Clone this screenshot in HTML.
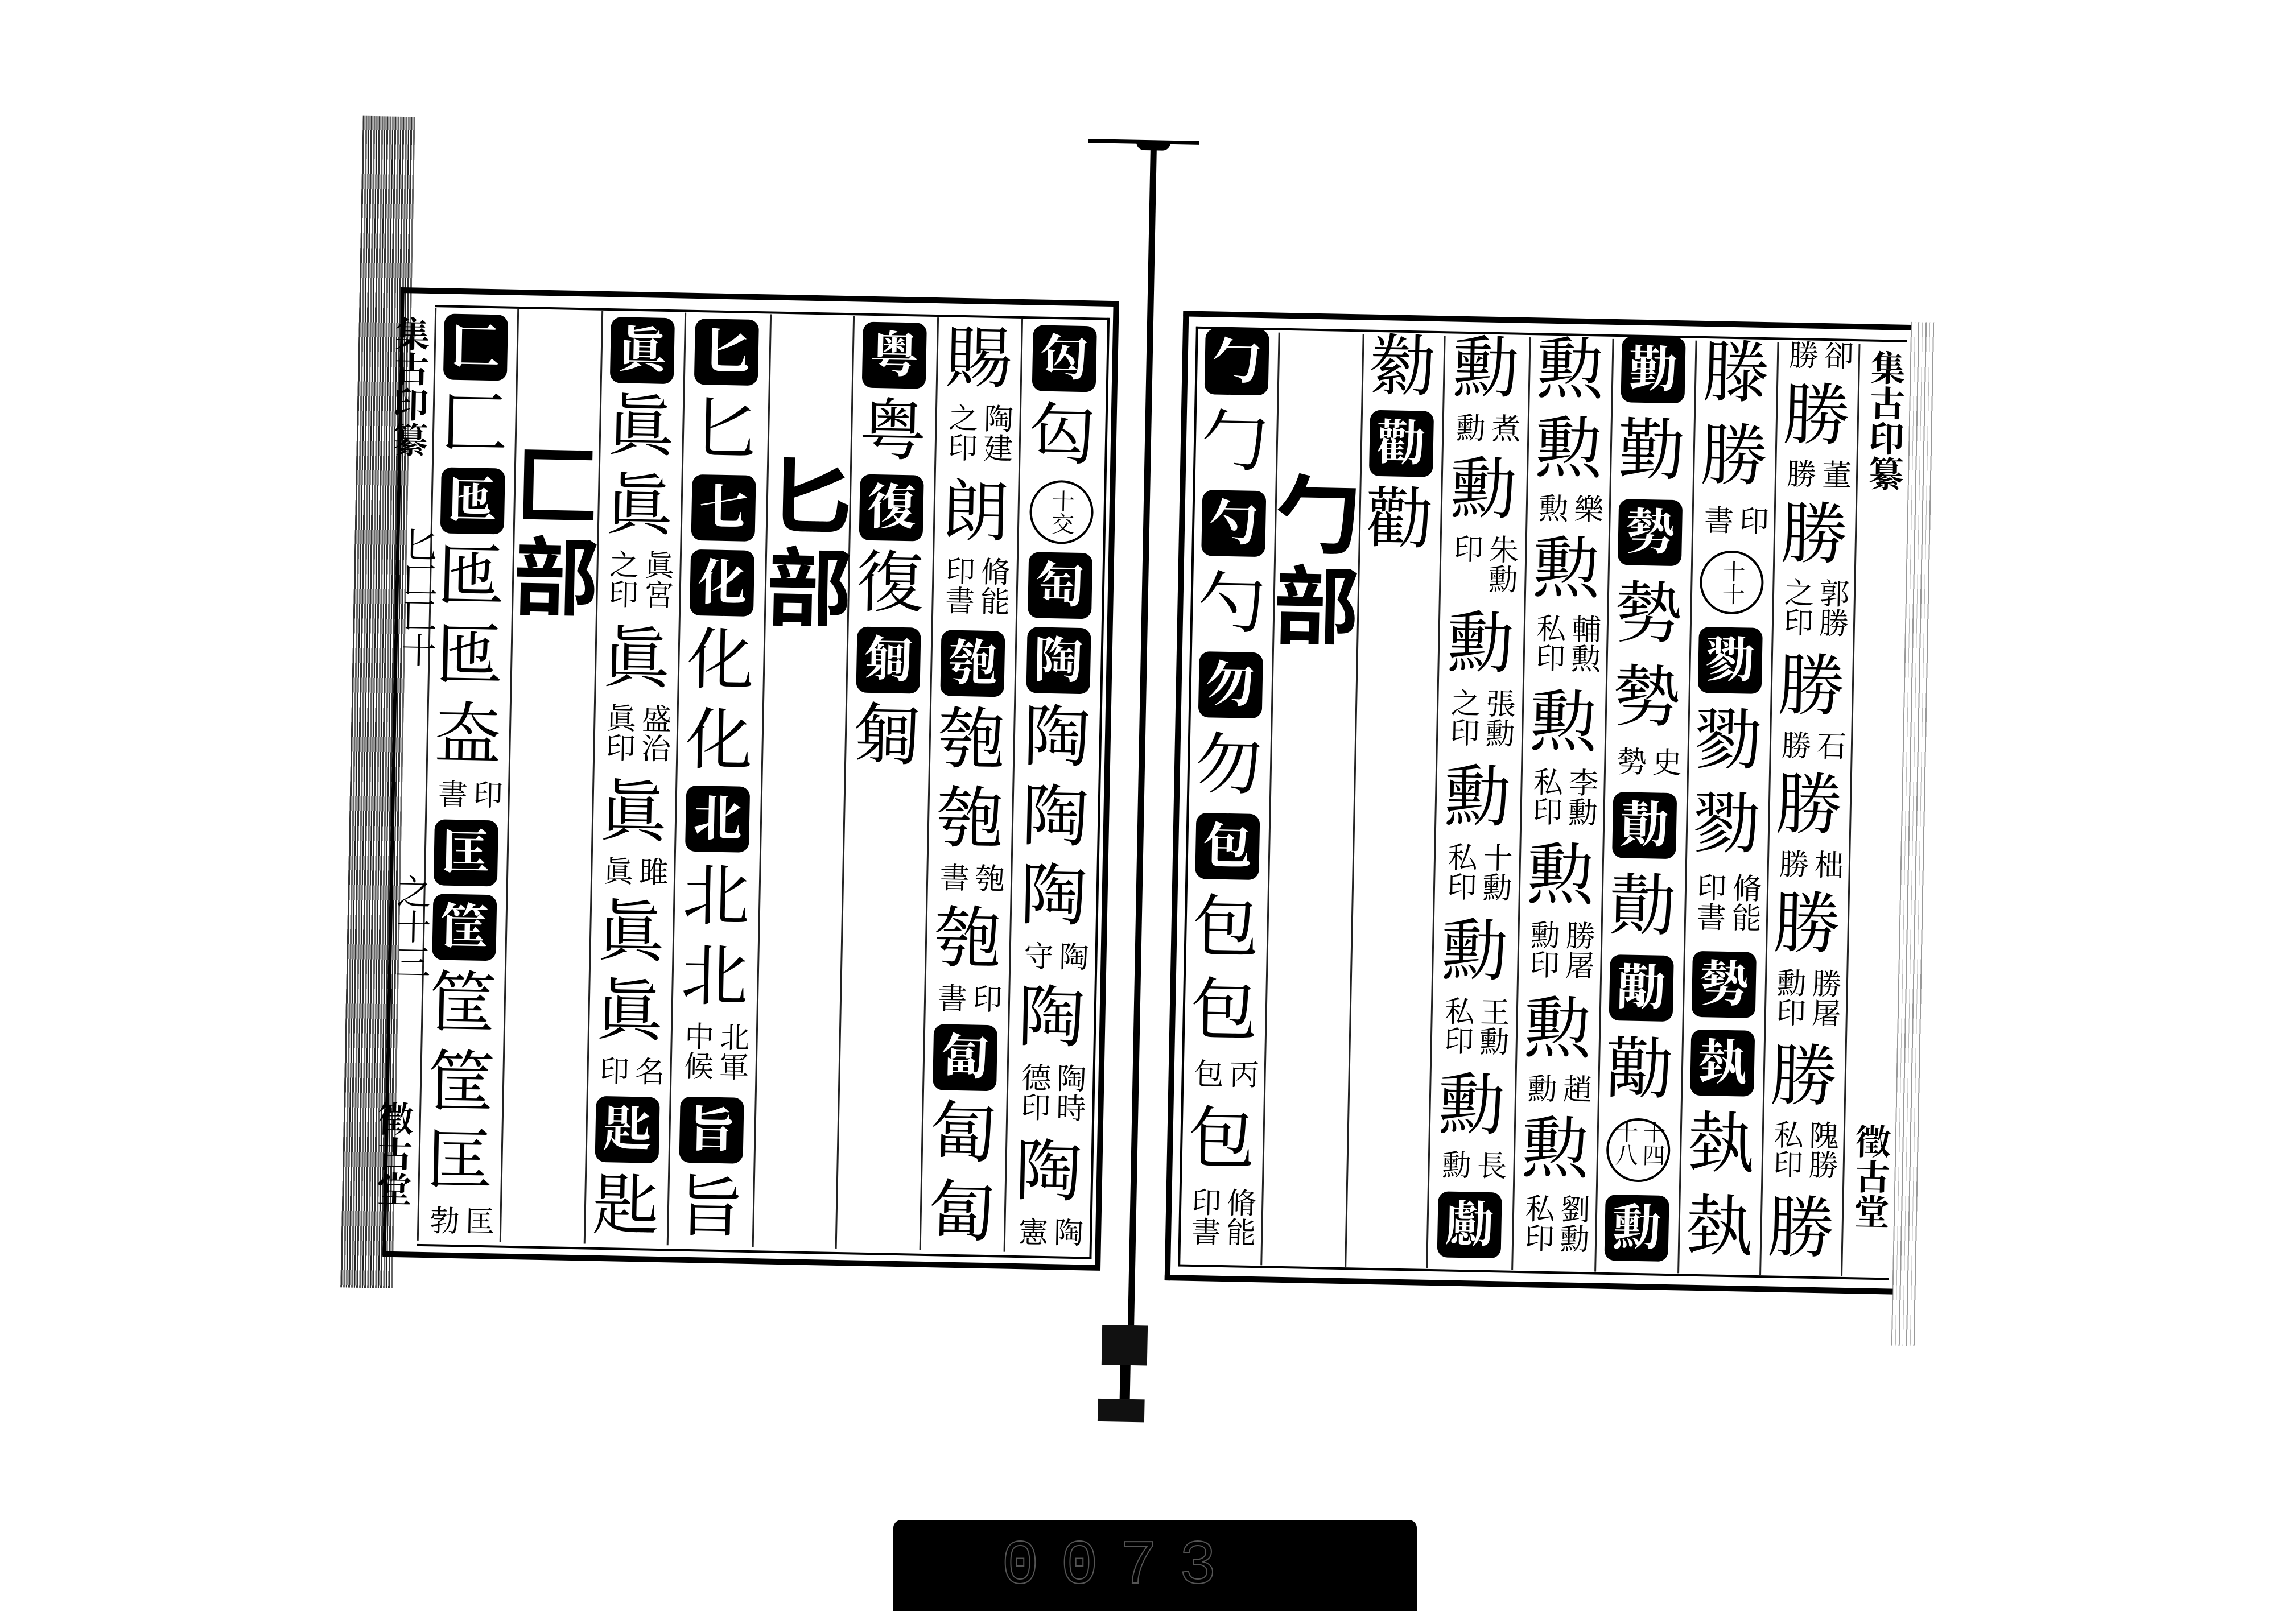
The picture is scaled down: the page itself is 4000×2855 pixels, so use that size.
<!DOCTYPE html>
<html><head><meta charset="utf-8">
<style>
html,body{margin:0;padding:0;background:#fff;}
body{width:4000px;height:2817px;overflow:hidden;position:relative;font-family:"Liberation Serif","Noto Serif CJK SC",serif;color:#000;}
#pg{position:absolute;left:0;top:0;width:4000px;height:2817px;transform:rotate(1.1deg);transform-origin:2000px 1400px;}
.a{position:absolute;}
.col{position:absolute;top:575px;height:1625px;display:flex;flex-direction:column;align-items:center;justify-content:space-between;}
.col.t{justify-content:flex-start;gap:14px;}
.b{width:112px;height:116px;background:#000;color:#fff;border-radius:18px;font-size:86px;line-height:116px;text-align:center;font-weight:700;flex:none;}
.c{font-size:118px;line-height:124px;height:124px;flex:none;}
.s{writing-mode:vertical-rl;font-size:52px;line-height:62px;flex:none;}
.s1{height:58px;}
.s2{height:116px;}
.o{width:104px;height:104px;border:4px solid #000;border-radius:50%;font-size:40px;line-height:48px;display:flex;align-items:center;justify-content:center;writing-mode:vertical-rl;flex:none;}
.vl{position:absolute;top:565px;height:1640px;width:3px;background:#222;}
.hd{position:absolute;font-size:150px;line-height:160px;font-weight:700;font-family:"Noto Sans CJK SC",sans-serif;}
.m{position:absolute;writing-mode:vertical-rl;font-size:62px;line-height:70px;}
</style></head><body>
<div id="pg">
<!-- binding strips -->
<div class="a" style="left:615px;top:230px;width:92px;height:2060px;background:repeating-linear-gradient(90deg,#333 0 3px,#fff 3px 5px,#666 5px 8px,#ddd 8px 10px,#222 10px 12px,#fff 12px 14px);"></div>
<div class="a" style="left:3342px;top:540px;width:45px;height:1800px;background:repeating-linear-gradient(90deg,#999 0 2px,#fff 2px 7px,#bbb 7px 8px,#fff 8px 13px);"></div>

<!-- left page frame -->
<div class="a" style="left:688px;top:530px;width:1262px;height:1705px;border:10px solid #000;box-sizing:border-box;border-left-width:6px;"></div>
<div class="a" style="left:748px;top:560px;width:1186px;height:1655px;border:4px solid #000;box-sizing:border-box;border-left:none;"></div>
<!-- right page frame -->
<div class="a" style="left:2063px;top:545px;width:1280px;height:1705px;border:10px solid #000;border-right:none;box-sizing:border-box;"></div>
<div class="a" style="left:2086px;top:572px;width:1250px;height:1653px;border:4px solid #000;border-right:none;box-sizing:border-box;"></div>

<!-- column lines left -->
<div class="vl" style="left:748px"></div><div class="vl" style="left:893px"></div><div class="vl" style="left:1041px"></div><div class="vl" style="left:1187px"></div><div class="vl" style="left:1337px"></div><div class="vl" style="left:1483px"></div><div class="vl" style="left:1631px"></div><div class="vl" style="left:1779px"></div>
<!-- column lines right -->
<div class="vl" style="left:2231px;top:580px"></div><div class="vl" style="left:2379px;top:580px"></div><div class="vl" style="left:2522px;top:580px"></div><div class="vl" style="left:2672px;top:580px"></div><div class="vl" style="left:2818px;top:580px"></div><div class="vl" style="left:2964px;top:580px"></div><div class="vl" style="left:3108px;top:580px"></div><div class="vl" style="left:3251px;top:580px"></div>

<!-- spine -->
<div class="a" style="left:1890px;top:246px;width:195px;height:7px;background:#000;"></div>
<div class="a" style="left:1975px;top:250px;width:60px;height:14px;background:#000;border-radius:0 0 30px 30px;"></div>
<div class="a" style="left:2000px;top:255px;width:11px;height:2080px;background:#000;"></div>
<div class="a" style="left:1955px;top:2330px;width:80px;height:70px;background:#111;"></div>
<div class="a" style="left:1988px;top:2400px;width:18px;height:70px;background:#000;"></div>
<div class="a" style="left:1950px;top:2460px;width:82px;height:40px;background:#111;"></div>

<!-- margin texts -->
<div class="m" style="left:668px;top:580px;font-weight:700;">集古印纂</div>
<div class="m" style="left:690px;top:950px;">匕匚匸十</div>
<div class="m" style="left:690px;top:1560px;">之十三</div>
<div class="m" style="left:665px;top:1960px;font-weight:700;">徵古堂</div>
<div class="m" style="left:3262px;top:590px;font-weight:700;">集古印纂</div>
<div class="m" style="left:3262px;top:1950px;font-weight:700;">徵古堂</div>

<!-- headings -->
<div class="hd" style="left:1340px;top:795px;">匕<br>部</div>
<div class="hd" style="left:895px;top:785px;">匚<br>部</div>
<div class="hd" style="left:2232px;top:810px;">勹<br>部</div>

<!-- L1 -->
<div class="col" style="left:1779px;width:153px;">
<div class="b">匃</div><div class="c">匃</div><div class="o">十交</div><div class="b">匋</div><div class="b">陶</div><div class="c">陶</div><div class="c">陶</div><div class="c">陶</div><div class="s s1">陶守</div><div class="c">陶</div><div class="s s2">陶時德印</div><div class="c">陶</div><div class="s s1">陶憲</div>
</div>
<!-- L2 -->
<div class="col" style="left:1631px;width:148px;">
<div class="c">賜</div><div class="s s2">陶建之印</div><div class="c">朗</div><div class="s s2">脩能印書</div><div class="b">匏</div><div class="c">匏</div><div class="c">匏</div><div class="s s1">匏書</div><div class="c">匏</div><div class="s s1">印書</div><div class="b">匐</div><div class="c">匐</div><div class="c">匐</div>
</div>
<!-- L3 -->
<div class="col t" style="left:1483px;width:148px;">
<div class="b">粤</div><div class="c">粤</div><div class="b">復</div><div class="c">復</div><div class="b">匔</div><div class="c">匔</div>
</div>
<!-- L5 -->
<div class="col" style="left:1187px;width:150px;">
<div class="b">匕</div><div class="c">匕</div><div class="b">七</div><div class="b">化</div><div class="c">化</div><div class="c">化</div><div class="b">北</div><div class="c">北</div><div class="c">北</div><div class="s s2">北軍中候</div><div class="b">旨</div><div class="c">旨</div>
</div>
<!-- L6 -->
<div class="col" style="left:1041px;width:146px;">
<div class="b">眞</div><div class="c">眞</div><div class="c">眞</div><div class="s s2">眞宮之印</div><div class="c">眞</div><div class="s s2">盛治眞印</div><div class="c">眞</div><div class="s s1">雎眞</div><div class="c">眞</div><div class="c">眞</div><div class="s s1">名印</div><div class="b">匙</div><div class="c">匙</div>
</div>
<!-- L8 -->
<div class="col" style="left:748px;width:145px;">
<div class="b">匚</div><div class="c">匚</div><div class="b">匜</div><div class="c">匜</div><div class="c">匜</div><div class="c">盇</div><div class="s s1">印書</div><div class="b">匡</div><div class="b">筐</div><div class="c">筐</div><div class="c">筐</div><div class="c">匡</div><div class="s s1">匡勃</div>
</div>

<!-- R1 -->
<div class="col" style="left:2086px;width:145px;">
<div class="b">勹</div><div class="c">勹</div><div class="b">勺</div><div class="c">勺</div><div class="b">勿</div><div class="c">勿</div><div class="b">包</div><div class="c">包</div><div class="c">包</div><div class="s s1">丙包</div><div class="c">包</div><div class="s s2">脩能印書</div>
</div>
<!-- R3 -->
<div class="col t" style="left:2379px;width:143px;">
<div class="c">勬</div><div class="b">勸</div><div class="c">勸</div>
</div>
<!-- R4 -->
<div class="col" style="left:2522px;width:150px;">
<div class="c">勳</div><div class="s s1">煮勳</div><div class="c">勳</div><div class="s s2">朱勳印</div><div class="c">勳</div><div class="s s2">張勳之印</div><div class="c">勳</div><div class="s s2">十勳私印</div><div class="c">勳</div><div class="s s2">王勳私印</div><div class="c">勳</div><div class="s s1">長勳</div><div class="b">勴</div>
</div>
<!-- R5 -->
<div class="col" style="left:2672px;width:146px;">
<div class="c">勲</div><div class="c">勲</div><div class="s s1">樂勲</div><div class="c">勲</div><div class="s s2">輔勲私印</div><div class="c">勲</div><div class="s s2">李勳私印</div><div class="c">勲</div><div class="s s2">勝屠勳印</div><div class="c">勲</div><div class="s s1">趙勳</div><div class="c">勲</div><div class="s s2">劉勳私印</div>
</div>
<!-- R6 -->
<div class="col" style="left:2818px;width:146px;">
<div class="b">勤</div><div class="c">勤</div><div class="b">勢</div><div class="c">勢</div><div class="c">勢</div><div class="s s1">史勢</div><div class="b">勣</div><div class="c">勣</div><div class="b">勱</div><div class="c">勱</div><div class="o">十四十八</div><div class="b">勳</div>
</div>
<!-- R7 -->
<div class="col" style="left:2964px;width:144px;">
<div class="c">滕</div><div class="c">勝</div><div class="s s1">印書</div><div class="o">十十</div><div class="b">勠</div><div class="c">勠</div><div class="c">勠</div><div class="s s2">脩能印書</div><div class="b">勢</div><div class="b">埶</div><div class="c">埶</div><div class="c">埶</div>
</div>
<!-- R8 -->
<div class="col" style="left:3108px;width:143px;">
<div class="s s1">卻勝</div><div class="c">勝</div><div class="s s1">董勝</div><div class="c">勝</div><div class="s s2">郭勝之印</div><div class="c">勝</div><div class="s s1">石勝</div><div class="c">勝</div><div class="s s1">柮勝</div><div class="c">勝</div><div class="s s2">勝屠勳印</div><div class="c">勝</div><div class="s s2">隗勝私印</div><div class="c">勝</div>
</div>
</div>

<!-- bottom label bar -->
<div class="a" style="left:1570px;top:2672px;width:920px;height:160px;background:#000;border-radius:14px 14px 0 0;"></div>
<div class="a" style="left:1760px;top:2700px;width:520px;height:110px;font-family:'Liberation Mono',monospace;font-size:110px;line-height:110px;color:#000;-webkit-text-stroke:2px #555;letter-spacing:38px;">0073</div>
</body></html>
